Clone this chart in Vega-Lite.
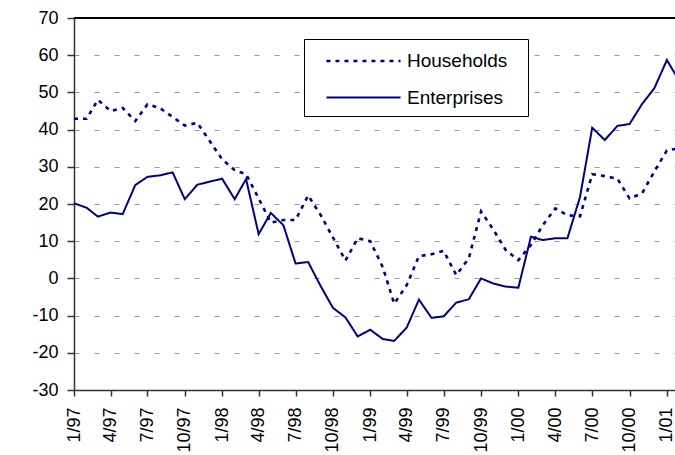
{
  "$schema": "https://vega.github.io/schema/vega-lite/v6.json",
  "width": 601,
  "height": 372,
  "autosize": {"type": "none"},
  "padding": {"left": 74, "top": 18, "right": 0, "bottom": 65},
  "background": "white",
  "config": {
    "view": {"stroke": null},
    "font": "Liberation Sans",
    "axisY": {
      "title": "%",
      "titleAngle": 0,
      "titleAlign": "center",
      "titleBaseline": "middle",
      "titleX": -54,
      "titleY": 182,
      "titleFontSize": 18,
      "titleFontWeight": "normal",
      "titleColor": "black",
      "labelFontSize": 18,
      "labelColor": "black",
      "labelPadding": 9,
      "labelOverlap": false,
      "tickSize": 7,
      "tickColor": "#333",
      "tickWidth": 1.5,
      "domainColor": "#333",
      "domainWidth": 1.5,
      "grid": true,
      "gridColor": "#999",
      "gridDash": [5, 15],
      "gridWidth": 1
    }
  },
  "data": {
    "values": [
      {"date": "1997-01-01", "Households": 42.9, "Enterprises": 20.2},
      {"date": "1997-02-01", "Households": 42.9, "Enterprises": 19.0},
      {"date": "1997-03-01", "Households": 48.0, "Enterprises": 16.6},
      {"date": "1997-04-01", "Households": 45.0, "Enterprises": 17.7},
      {"date": "1997-05-01", "Households": 45.8, "Enterprises": 17.3},
      {"date": "1997-06-01", "Households": 42.3, "Enterprises": 25.1},
      {"date": "1997-07-01", "Households": 46.8, "Enterprises": 27.3},
      {"date": "1997-08-01", "Households": 45.8, "Enterprises": 27.7},
      {"date": "1997-09-01", "Households": 43.4, "Enterprises": 28.5},
      {"date": "1997-10-01", "Households": 41.1, "Enterprises": 21.3},
      {"date": "1997-11-01", "Households": 41.8, "Enterprises": 25.2},
      {"date": "1997-12-01", "Households": 37.0, "Enterprises": 26.0},
      {"date": "1998-01-01", "Households": 32.0, "Enterprises": 26.8},
      {"date": "1998-02-01", "Households": 29.1, "Enterprises": 21.3},
      {"date": "1998-03-01", "Households": 28.0, "Enterprises": 26.7},
      {"date": "1998-04-01", "Households": 21.5, "Enterprises": 11.9},
      {"date": "1998-05-01", "Households": 15.0, "Enterprises": 17.6},
      {"date": "1998-06-01", "Households": 15.7, "Enterprises": 14.3},
      {"date": "1998-07-01", "Households": 15.7, "Enterprises": 4.0},
      {"date": "1998-08-01", "Households": 22.3, "Enterprises": 4.4},
      {"date": "1998-09-01", "Households": 17.0, "Enterprises": -2.1},
      {"date": "1998-10-01", "Households": 11.0, "Enterprises": -7.9},
      {"date": "1998-11-01", "Households": 4.8, "Enterprises": -10.5},
      {"date": "1998-12-01", "Households": 10.8, "Enterprises": -15.6},
      {"date": "1999-01-01", "Households": 10.0, "Enterprises": -13.8},
      {"date": "1999-02-01", "Households": 3.0, "Enterprises": -16.3},
      {"date": "1999-03-01", "Households": -6.8, "Enterprises": -16.8},
      {"date": "1999-04-01", "Households": -1.8, "Enterprises": -13.2},
      {"date": "1999-05-01", "Households": 6.0, "Enterprises": -5.7},
      {"date": "1999-06-01", "Households": 6.5, "Enterprises": -10.6},
      {"date": "1999-07-01", "Households": 7.4, "Enterprises": -10.2},
      {"date": "1999-08-01", "Households": 0.9, "Enterprises": -6.5},
      {"date": "1999-09-01", "Households": 5.4, "Enterprises": -5.6},
      {"date": "1999-10-01", "Households": 18.0, "Enterprises": 0.0},
      {"date": "1999-11-01", "Households": 13.0, "Enterprises": -1.4},
      {"date": "1999-12-01", "Households": 7.6, "Enterprises": -2.2},
      {"date": "2000-01-01", "Households": 4.9, "Enterprises": -2.5},
      {"date": "2000-02-01", "Households": 9.0, "Enterprises": 11.2},
      {"date": "2000-03-01", "Households": 14.3, "Enterprises": 10.3},
      {"date": "2000-04-01", "Households": 18.8, "Enterprises": 10.8},
      {"date": "2000-05-01", "Households": 17.0, "Enterprises": 10.8},
      {"date": "2000-06-01", "Households": 16.7, "Enterprises": 21.9},
      {"date": "2000-07-01", "Households": 28.0, "Enterprises": 40.5},
      {"date": "2000-08-01", "Households": 27.5, "Enterprises": 37.2},
      {"date": "2000-09-01", "Households": 26.8, "Enterprises": 41.0},
      {"date": "2000-10-01", "Households": 21.5, "Enterprises": 41.5},
      {"date": "2000-11-01", "Households": 22.9, "Enterprises": 46.9},
      {"date": "2000-12-01", "Households": 28.7, "Enterprises": 51.1},
      {"date": "2001-01-01", "Households": 34.4, "Enterprises": 58.7},
      {"date": "2001-02-01", "Households": 35.0, "Enterprises": 53.0}
    ]
  },
  "layer": [
    {
      "mark": {"type": "rule", "color": "black", "strokeWidth": 1.5},
      "encoding": {
        "y": {
          "datum": 70,
          "type": "quantitative",
          "scale": {"domain": [-30, 70], "nice": false, "zero": false},
          "axis": {
            "values": [-30, -20, -10, 0, 10, 20, 30, 40, 50, 60, 70],
            "labelExpr": "'' + datum.value"
          }
        }
      }
    },
    {
      "transform": [{"fold": ["Households", "Enterprises"], "as": ["series", "value"]}],
      "mark": {"type": "line", "clip": true},
      "encoding": {
        "x": {
          "field": "date",
          "type": "temporal",
          "scale": {
            "type": "utc",
            "domain": [
              {"year": 1997, "month": 1, "date": 1, "utc": true},
              {"year": 2001, "month": 1, "date": 21, "utc": true}
            ]
          },
          "axis": {
            "title": null,
            "labelExpr": "utcFormat(datum.value, '%-m/%y')",
            "values": [
              {"year": 1997, "month": 1, "utc": true},
              {"year": 1997, "month": 4, "utc": true},
              {"year": 1997, "month": 7, "utc": true},
              {"year": 1997, "month": 10, "utc": true},
              {"year": 1998, "month": 1, "utc": true},
              {"year": 1998, "month": 4, "utc": true},
              {"year": 1998, "month": 7, "utc": true},
              {"year": 1998, "month": 10, "utc": true},
              {"year": 1999, "month": 1, "utc": true},
              {"year": 1999, "month": 4, "utc": true},
              {"year": 1999, "month": 7, "utc": true},
              {"year": 1999, "month": 10, "utc": true},
              {"year": 2000, "month": 1, "utc": true},
              {"year": 2000, "month": 4, "utc": true},
              {"year": 2000, "month": 7, "utc": true},
              {"year": 2000, "month": 10, "utc": true},
              {"year": 2001, "month": 1, "utc": true}
            ],
            "labelAngle": 270,
            "labelAlign": "right",
            "labelBaseline": "middle",
            "labelFontSize": 18,
            "labelColor": "black",
            "labelPadding": 11,
            "labelFlush": false,
            "labelOverlap": false,
            "tickSize": 6,
            "tickColor": "#333",
            "tickWidth": 1.5,
            "domainColor": "#333",
            "domainWidth": 1.5,
            "grid": false
          }
        },
        "y": {
          "field": "value",
          "type": "quantitative",
          "scale": {"domain": [-30, 70], "nice": false, "zero": false},
          "axis": {
            "values": [-30, -20, -10, 0, 10, 20, 30, 40, 50, 60, 70],
            "labelExpr": "'' + datum.value"
          }
        },
        "color": {
          "field": "series",
          "type": "nominal",
          "scale": {"domain": ["Households", "Enterprises"], "range": ["#000080", "#000080"]},
          "legend": {
            "title": null,
            "orient": "none",
            "legendX": 230,
            "legendY": 21,
            "direction": "vertical",
            "fillColor": "white",
            "strokeColor": "black",
            "padding": 8,
            "symbolType": "M-3,0H3M12.25,0",
            "symbolSize": 610,
            "symbolStrokeWidth": 2.5,
            "symbolOffset": 37.5,
            "labelFontSize": 19,
            "labelColor": "black",
            "labelOffset": 29.5,
            "rowPadding": 13
          }
        },
        "strokeDash": {
          "field": "series",
          "type": "nominal",
          "scale": {"domain": ["Households", "Enterprises"], "range": [[4, 5], [1, 0]]},
          "legend": {
            "title": null,
            "orient": "none",
            "legendX": 230,
            "legendY": 21,
            "direction": "vertical",
            "fillColor": "white",
            "strokeColor": "black",
            "padding": 8,
            "symbolType": "M-3,0H3M12.25,0",
            "symbolSize": 610,
            "symbolStrokeWidth": 2.5,
            "symbolOffset": 37.5,
            "labelFontSize": 19,
            "labelColor": "black",
            "labelOffset": 29.5,
            "rowPadding": 13
          }
        },
        "strokeWidth": {
          "field": "series",
          "type": "nominal",
          "scale": {"domain": ["Households", "Enterprises"], "range": [2.6, 2]},
          "legend": null
        }
      }
    }
  ]
}
